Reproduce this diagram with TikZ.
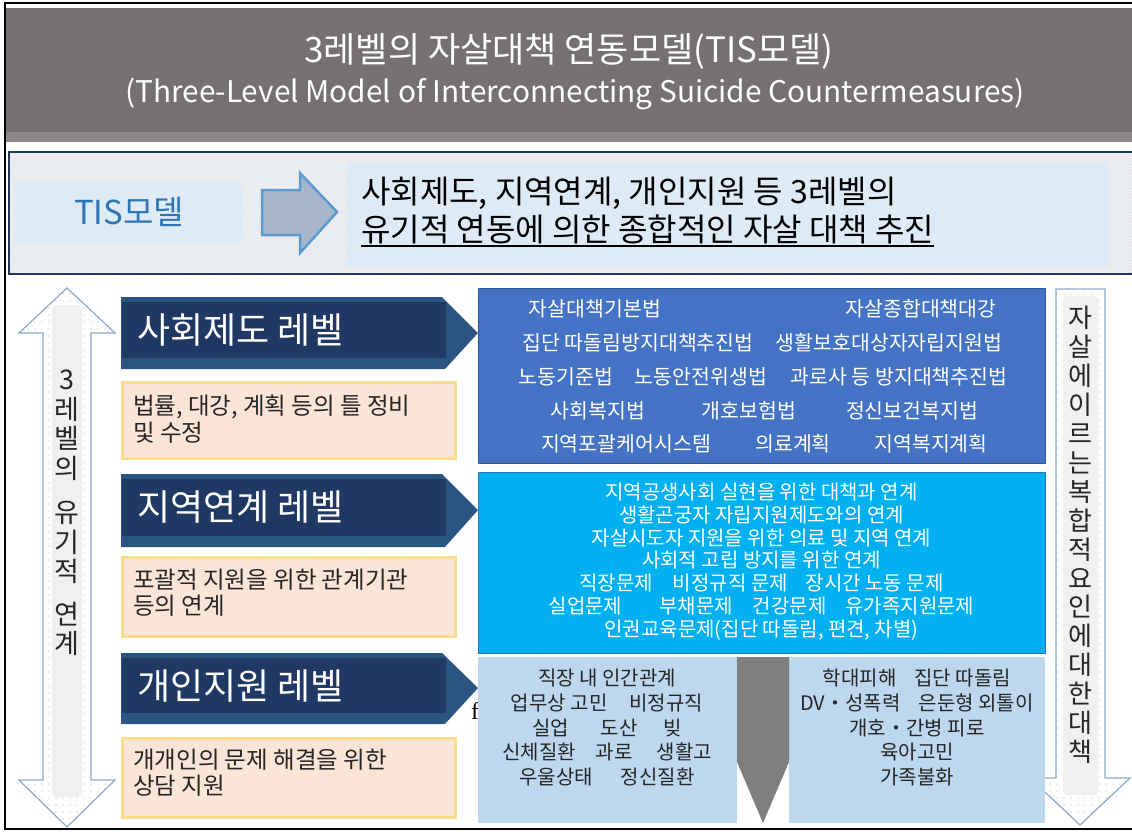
\documentclass[tikz,border=0pt]{standalone}
\usepackage{fontspec}
\setmainfont{Noto Sans CJK KR}
\newfontfamily\serifr{Liberation Serif}
\usetikzlibrary{patterns,patterns.meta}
\newcommand{\fsz}[2]{\fontsize{#1}{#2}\selectfont}
\definecolor{titlegray}{HTML}{767171}
\definecolor{titleband}{HTML}{8C8888}
\definecolor{navy}{HTML}{1F3864}
\definecolor{navyedge}{HTML}{2A5583}
\definecolor{peach}{HTML}{FBE5D6}
\definecolor{peachedge}{HTML}{F7DD8C}
\definecolor{lawblue}{HTML}{4472C4}
\definecolor{lawedge}{HTML}{2F5597}
\definecolor{skyblue}{HTML}{00B0F0}
\definecolor{skyedge}{HTML}{2E75B6}
\definecolor{paleblue}{HTML}{BDD7EE}
\definecolor{lightbox}{HTML}{DEEBF7}
\definecolor{tisblue}{HTML}{2E75B6}
\definecolor{arrowfill}{HTML}{A8B6CB}
\definecolor{arrowedge}{HTML}{5B9BD5}
\definecolor{sideedge}{HTML}{8EA9C8}
\definecolor{stripgray}{HTML}{F0F0F0}
\definecolor{wedgegray}{HTML}{7F7F7F}
\definecolor{sectionedge}{HTML}{22375A}
\definecolor{hatchbg}{HTML}{F4F5F7}
\definecolor{hatchline}{HTML}{D9DCE1}
\definecolor{bodytext}{HTML}{262626}
\tikzdeclarepattern{
  name=sparsedots,
  type=uncolored,
  bottom left={(-1pt,-1pt)},
  top right={(1pt,1pt)},
  tile size={(7pt,7pt)},
  code={\fill (0pt,0pt) circle [radius=0.55pt];}
}
\tikzset{
  titletext/.style={text=white, inner sep=0},
  hdrshape/.style={fill=navyedge},
  hdrinner/.style={fill=navy},
  hdrtext/.style={text=white, font=\fsz{36}{42}, anchor=west, inner sep=0},
  peachbox/.style={fill=peach, draw=peachedge, line width=3pt},
  peachtext/.style={text=bodytext, font=\fsz{23.5}{26.5}, align=left, anchor=west, inner sep=0},
  lawbox/.style={fill=lawblue, draw=lawedge, line width=1pt},
  lawtext/.style={text=white, font=\fsz{20.5}{24}, inner sep=0},
  skybox/.style={fill=skyblue, draw=skyedge, line width=1pt},
  skytext/.style={text=white, font=\fsz{20}{22.8}, align=center, inner sep=0},
  palebox/.style={fill=paleblue},
  paletext/.style={text=bodytext, font=\fsz{20}{24.7}, align=center, inner sep=0},
  sidearrow/.style={preaction={fill=white}, pattern=sparsedots, pattern color=gray!60, draw=sideedge, line width=1.2pt},
  sidestrip/.style={fill=stripgray, rounded corners=4pt},
  vtext/.style={text=bodytext, align=center, inner sep=0},
}
\begin{document}
\begin{tikzpicture}[x=1pt,y=-1pt]
\useasboundingbox (0,0) rectangle (1132,833);
\fill[white] (0,0) rectangle (1132,833);

% title band
\fill[titlegray] (6,8) rectangle (1132,134);
\fill[titleband] (6,132) rectangle (1132,142);
\node[titletext, font=\fsz{35}{42}] (title1) at (569,51) {3레벨의 자살대책 연동모델(TIS모델)};
\node[titletext, font=\fsz{29.8}{35}] (title2) at (575,94) {(Three-Level Model of Interconnecting Suicide Countermeasures)};

% TIS section
\path[preaction={fill=hatchbg}, pattern=north west lines, pattern color=hatchline, draw=sectionedge, line width=2pt] (9,152) rectangle (1145,274);
\fill[lightbox] (14,182) rectangle (242,242);
\node[text=tisblue, font=\fsz{33}{38}, inner sep=0] (tis) at (129,212) {TIS모델};
\fill[lightbox] (347,163) rectangle (1108,267);
\node[anchor=west, text=black, font=\fsz{32}{36}, inner sep=0] (tl1) at (361,193) {사회제도, 지역연계, 개인지원 등 3레벨의};
\node[anchor=west, text=black, font=\fsz{32}{36}, inner sep=0] (tl2) at (361,229) {유기적 연동에 의한 종합적인 자살 대책 추진};
\draw[black, line width=1.5pt] ([yshift=-2pt]tl2.south west) -- ([yshift=-2pt]tl2.south east);
\path[fill=arrowfill, draw=arrowedge, line width=2.5pt, line join=miter]
  (262,190) -- (300,190) -- (300,173) -- (337,212) -- (300,253) -- (300,235) -- (262,235) -- cycle;

% side arrows
\path[sidearrow] (67,288) -- (115,333) -- (91,333) -- (91,780) -- (115,780) -- (67,827) -- (19,780) -- (43,780) -- (43,333) -- (19,333) -- cycle;
\fill[sidestrip] (52,305) rectangle (82,797);
\node[vtext, font=\fsz{27}{29.5}] (leftlabel) at (67,513) {3\\레\\벨\\의\\[15pt]유\\기\\적\\[13pt]연\\계};

\path[sidearrow] (1056,289) -- (1105,289) -- (1105,778) -- (1130,778) -- (1080,825) -- (1030,778) -- (1056,778) -- cycle;
\fill[sidestrip] (1063,296) rectangle (1098,795);
\node[vtext, font=\fsz{26}{28.9}] (rightlabel) at (1080,535) {자\\살\\에\\이\\르\\는\\복\\합\\적\\요\\인\\에\\대\\한\\대\\책};

% level headers
\fill[hdrshape] (121,297) -- (442,297) -- (478,333) -- (445,369) -- (121,369) -- cycle;
\fill[hdrinner] (122,302) rectangle (446,358);
\node[hdrtext] (h1) at (137,330) {사회제도 레벨};
\fill[hdrshape] (121,474) -- (442,474) -- (478,510) -- (445,547) -- (121,547) -- cycle;
\fill[hdrinner] (122,479) rectangle (446,536);
\node[hdrtext] (h2) at (137,507) {지역연계 레벨};
\fill[hdrshape] (121,653) -- (442,653) -- (478,688) -- (445,724) -- (121,724) -- cycle;
\fill[hdrinner] (122,658) rectangle (446,713);
\node[hdrtext] (h3) at (137,686) {개인지원 레벨};

% peach boxes
\path[peachbox] (122,382) rectangle (455,458);
\node[peachtext] (p1) at (133,419) {법률, 대강, 계획 등의 틀 정비\\및 수정};
\path[peachbox] (122,557) rectangle (455,636);
\node[peachtext] (p2) at (133,592.5) {포괄적 지원을 위한 관계기관\\등의 연계};
\path[peachbox] (122,738) rectangle (455,817);
\node[peachtext] (p3) at (133,772.5) {개개인의 문제 해결을 위한\\상담 지원};

\node[text=black, font=\serifr\fsz{24}{28}, inner sep=0] (stray) at (475,711) {f};

% law box
\path[lawbox] (478,288) rectangle (1045,463);
\node[lawtext] (l1) at (595,309) {자살대책기본법};
\node[lawtext] (l2) at (921,309) {자살종합대책대강};
\node[lawtext] (l3) at (638,343) {집단 따돌림방지대책추진법};
\node[lawtext] (l4) at (889,343) {생활보호대상자자립지원법};
\node[lawtext] (l5) at (566,377) {노동기준법};
\node[lawtext] (l6) at (701,377) {노동안전위생법};
\node[lawtext] (l7) at (899,377) {과로사 등 방지대책추진법};
\node[lawtext] (l8) at (598,411) {사회복지법};
\node[lawtext] (l9) at (749,411) {개호보험법};
\node[lawtext] (l10) at (912,411) {정신보건복지법};
\node[lawtext] (l11) at (626,444) {지역포괄케어시스템};
\node[lawtext] (l12) at (793,444) {의료계획};
\node[lawtext] (l13) at (931,444) {지역복지계획};

% regional box
\path[skybox] (478,472) rectangle (1045,653);
\node[skytext] (reg) at (761.5,561.5) {지역공생사회 실현을 위한 대책과 연계\\생활곤궁자 자립지원제도와의 연계\\자살시도자 지원을 위한 의료 및 지역 연계\\사회적 고립 방지를 위한 연계\\직장문제\hspace{20pt}비정규직 문제\hspace{18pt}장시간 노동 문제\\실업문제\hspace{37pt}부채문제\hspace{20pt}건강문제\hspace{19pt}유가족지원문제\\인권교육문제(집단 따돌림, 편견, 차별)};

% individual boxes
\path[palebox] (478,657) rectangle (737,823);
\path[palebox] (789,657) rectangle (1045,823);
\fill[wedgegray] (737,657) -- (789,657) -- (789,762) -- (763,823) -- (737,762) -- cycle;
\node[paletext] (ind1) at (607,727.5) {직장 내 인간관계\\업무상 고민\hspace{22pt}비정규직\\실업\hspace{32pt}도산\hspace{26pt}빚\\신체질환\hspace{20pt}과로\hspace{24pt}생활고\\우울상태\hspace{28pt}정신질환};
\node[paletext] (ind2) at (917,727.5) {학대피해\hspace{18pt}집단 따돌림\\DV・성폭력\hspace{18pt}은둔형 외톨이\\개호・간병 피로\\육아고민\\가족불화};

% outer frame
\draw[black, line width=2pt] (1132,3) -- (5,3) -- (5,829) -- (1132,829);
\end{tikzpicture}
\end{document}
